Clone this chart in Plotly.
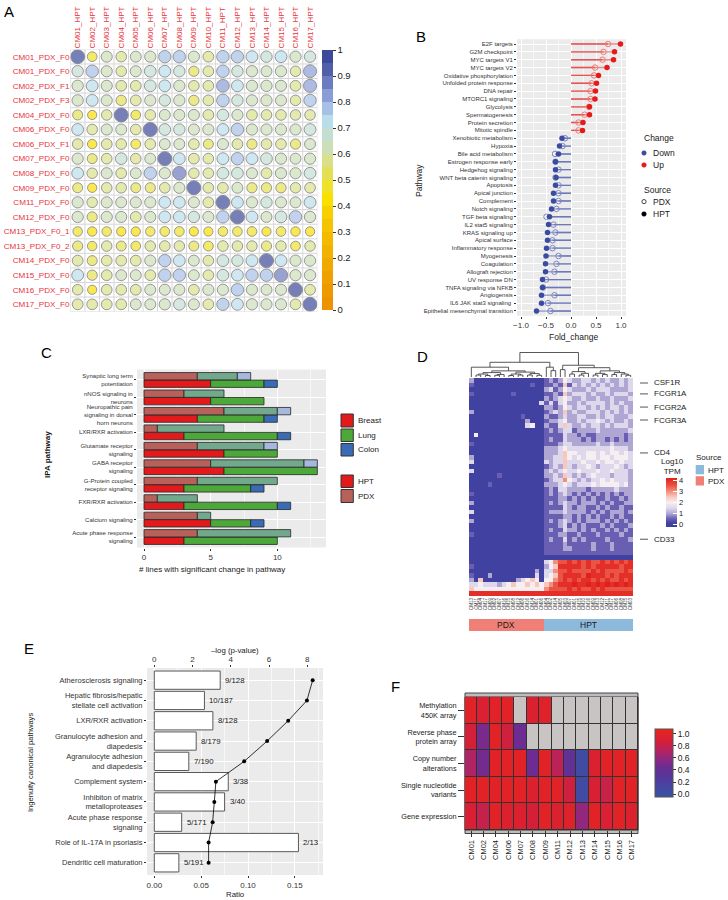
import numpy as np
import plotly.graph_objects as go

W, H = 728, 900
FONT = "Liberation Sans, Arial, Helvetica, sans-serif"
INK = "#1A1A1A"
TICK = "#333333"
RED_LAB = "#E8333C"

def fx(p): return p / W
def fy(p): return 1 - p / H
def dx(a, b): return [a / W, b / W]
def dy(top, bottom): return [1 - bottom / H, 1 - top / H]

# ======================= DATA =======================
# ---- Panel A: correlation PDX vs HPT
a_cols = ["CM01_HPT", "CM02_HPT", "CM03_HPT", "CM04_HPT", "CM05_HPT", "CM06_HPT", "CM07_HPT", "CM08_HPT",
          "CM09_HPT", "CM10_HPT", "CM11_HPT", "CM12_HPT", "CM13_HPT", "CM14_HPT", "CM15_HPT", "CM16_HPT", "CM17_HPT"]
a_rows = ["CM01_PDX_F0", "CM01_PDX_F0", "CM02_PDX_F1", "CM02_PDX_F3", "CM04_PDX_F0", "CM06_PDX_F0", "CM06_PDX_F1",
          "CM07_PDX_F0", "CM08_PDX_F0", "CM09_PDX_F0", "CM11_PDX_F0", "CM12_PDX_F0", "CM13_PDX_F0_1", "CM13_PDX_F0_2",
          "CM14_PDX_F0", "CM15_PDX_F0", "CM16_PDX_F0", "CM17_PDX_F0"]
a_corr = [
    [0.97, 0.47, 0.61, 0.56, 0.60, 0.63, 0.76, 0.76, 0.63, 0.58, 0.77, 0.76, 0.70, 0.65, 0.70, 0.63, 0.65],
    [0.65, 0.77, 0.62, 0.56, 0.61, 0.69, 0.70, 0.65, 0.52, 0.57, 0.77, 0.65, 0.64, 0.60, 0.63, 0.55, 0.83],
    [0.64, 0.70, 0.62, 0.58, 0.58, 0.69, 0.70, 0.64, 0.57, 0.57, 0.80, 0.70, 0.64, 0.64, 0.62, 0.58, 0.84],
    [0.64, 0.70, 0.62, 0.54, 0.58, 0.63, 0.66, 0.64, 0.53, 0.57, 0.78, 0.65, 0.63, 0.63, 0.62, 0.55, 0.76],
    [0.50, 0.42, 0.55, 0.97, 0.47, 0.57, 0.60, 0.62, 0.62, 0.58, 0.68, 0.62, 0.59, 0.57, 0.57, 0.55, 0.56],
    [0.70, 0.56, 0.62, 0.60, 0.57, 0.97, 0.69, 0.65, 0.62, 0.62, 0.70, 0.78, 0.64, 0.63, 0.63, 0.62, 0.69],
    [0.56, 0.44, 0.58, 0.57, 0.48, 0.58, 0.60, 0.60, 0.58, 0.50, 0.62, 0.57, 0.53, 0.57, 0.57, 0.52, 0.60],
    [0.63, 0.50, 0.57, 0.68, 0.56, 0.60, 0.97, 0.70, 0.58, 0.56, 0.70, 0.76, 0.70, 0.69, 0.63, 0.60, 0.63],
    [0.70, 0.55, 0.62, 0.58, 0.60, 0.77, 0.64, 0.88, 0.56, 0.56, 0.69, 0.69, 0.62, 0.59, 0.63, 0.62, 0.69],
    [0.50, 0.43, 0.56, 0.56, 0.50, 0.52, 0.57, 0.62, 0.96, 0.57, 0.58, 0.60, 0.53, 0.53, 0.53, 0.55, 0.57],
    [0.63, 0.55, 0.62, 0.60, 0.62, 0.63, 0.70, 0.70, 0.62, 0.58, 0.95, 0.70, 0.64, 0.65, 0.62, 0.60, 0.70],
    [0.63, 0.52, 0.63, 0.62, 0.59, 0.62, 0.70, 0.70, 0.65, 0.62, 0.77, 0.97, 0.70, 0.60, 0.69, 0.78, 0.64],
    [0.45, 0.44, 0.45, 0.43, 0.43, 0.45, 0.47, 0.47, 0.43, 0.42, 0.46, 0.46, 0.47, 0.42, 0.47, 0.44, 0.43],
    [0.52, 0.45, 0.55, 0.50, 0.47, 0.55, 0.57, 0.55, 0.50, 0.48, 0.57, 0.55, 0.55, 0.52, 0.55, 0.47, 0.55],
    [0.58, 0.50, 0.57, 0.58, 0.58, 0.62, 0.76, 0.70, 0.60, 0.57, 0.69, 0.65, 0.70, 0.97, 0.70, 0.63, 0.63],
    [0.70, 0.52, 0.58, 0.60, 0.60, 0.58, 0.77, 0.76, 0.60, 0.57, 0.69, 0.70, 0.76, 0.77, 0.88, 0.63, 0.64],
    [0.55, 0.42, 0.57, 0.57, 0.58, 0.60, 0.62, 0.62, 0.58, 0.62, 0.63, 0.76, 0.62, 0.60, 0.62, 0.96, 0.58],
    [0.58, 0.57, 0.58, 0.58, 0.60, 0.60, 0.63, 0.68, 0.62, 0.58, 0.75, 0.70, 0.64, 0.62, 0.63, 0.58, 0.96],
]
a_ticks = [0, 0.1, 0.2, 0.3, 0.4, 0.5, 0.6, 0.7, 0.8, 0.9, 1]
a_ticktext = ["0", "0.1", "0.2", "0.3", "0.4", "0.5", "0.6", "0.7", "0.8", "0.9", "1"]

# ---- Panel B: hallmark pathway fold change
b_path = ["E2F targets", "G2M checkpoint", "MYC targets V1", "MYC targets V2", "Oxidative phosphorylation",
          "Unfolded protein response", "DNA repair", "MTORC1 signaling", "Glycolysis", "Spermatogenesis",
          "Protein secretion", "Mitotic spindle", "Xenobiotic metabolism", "Hypoxia", "Bile acid metabolism",
          "Estrogen response early", "Hedgehog signaling", "WNT beta catenin signaling", "Apoptosis",
          "Apical junction", "Complement", "Notch signaling", "TGF beta signaling", "IL2 stat5 signaling",
          "KRAS signaling up", "Apical surface", "Inflammatory response", "Myogenesis", "Coagulation",
          "Allograft rejection", "UV response DN", "TNFA signaling via NFKB", "Angiogensis",
          "IL6 JAK stat3 signaling ", "Epithelial mesenchymal transition"]
b_hpt = [0.99, 0.87, 0.85, 0.72, 0.55, 0.51, 0.49, 0.48, 0.37, 0.37, 0.24, 0.23,
         -0.18, -0.23, -0.25, -0.31, -0.31, -0.30, -0.31, -0.35, -0.35, -0.39,
         -0.43, -0.45, -0.47, -0.47, -0.49, -0.50, -0.51, -0.51, -0.57, -0.57, -0.59, -0.59, -0.69]
b_pdx = [0.74, 0.65, 0.63, 0.48, 0.46, 0.41, 0.39, 0.39, 0.36, 0.27, 0.15, 0.15,
         -0.12, -0.17, -0.32, -0.31, -0.25, -0.31, -0.25, -0.25, -0.25, -0.29,
         -0.49, -0.35, -0.31, -0.37, -0.37, -0.25, -0.29, -0.33, -0.50, -0.56, -0.33, -0.46, -0.41]
b_change = ["Up"] * 12 + ["Down"] * 23

# ---- Panel C: IPA pathways
c_path = ["Synaptic long term<br>potentiation", "nNOS signaling in<br>neurons",
          "Neuropathic pain<br>signaling in dorsal<br>horn neurons", "LXR/RXR activation",
          "Glutamate receptor<br>signaling", "GABA receptor<br>signaling", "G-Protein coupled<br>receptor signaling",
          "FXR/RXR activation", "Calcium signaling", "Acute phase response<br>signaling"]
c_hpt_breast = [5, 5, 4, 3, 6, 6, 3, 3, 5, 3]
c_hpt_lung = [4, 4, 5, 7, 4, 7, 5, 7, 3, 7]
c_hpt_colon = [1, 0, 1, 1, 0, 0, 1, 1, 1, 0]
c_pdx_breast = [4, 3, 6, 1, 4, 5, 4, 1, 4, 4]
c_pdx_lung = [3, 3, 4, 5, 5, 7, 6, 3, 1, 7]
c_pdx_colon = [1, 0, 1, 0, 1, 1, 0, 0, 0, 0]

# ---- Panel D: immune gene expression heatmap (each digit = half a log10 TPM unit)
d_cols = ["CM13", "CM11", "CM04", "CM17", "CM09", "CM02", "CM07", "CM16", "CM15", "CM08", "CM12", "CM06",
          "CM16", "CM14", "CM01", "CM06",
          "CM04", "CM02", "CM14", "CM05", "CM03", "CM07", "CM01", "CM15", "CM10", "CM16", "CM09", "CM13",
          "CM12", "CM11", "CM17", "CM06", "CM08", "CM15", "CM03"]
d_source = ["PDX"] * 16 + ["HPT"] * 19
d_rows = [
    "2000000000000000" "121" "2432233232322323",
    "1000000000000100" "112" "1513232323232323",
    "0000000000000000" "231" "2432223233322223",
    "1000000001000000" "112" "1523332322323332",
    "0000000000000000" "212" "3432232232232223",
    "0000000000000003" "131" "3422323333232322",
    "0000000000000000" "221" "2432332323233232",
    "2000000000000000" "123" "2523223332323232",
    "0000000000010000" "211" "2322332232332223",
    "0000000000002000" "122" "3422323343232232",
    "0000000000003400" "211" "3532232332323332",
    "0000000000000000" "121" "2331222232222223",
    "0400000000000000" "111" "1322121122222212",
    "0000000000000000" "121" "1322212122121212",
    "1000000000000000" "111" "2332222232232222",
    "0000000000000000" "222" "3433333333343332",
    "0000000000000000" "222" "3544334434344343",
    "2000000000000000" "223" "3543434434434443",
    "3000000000000000" "323" "3533343343443433",
    "0000000000000000" "123" "2532334323334323",
    "3000000000000000" "232" "3433433343343332",
    "0000001000000000" "223" "2532323433323332",
    "0000000000000000" "123" "3643232334343332",
    "0000100000000000" "222" "3432333434444342",
    "0000000000000000" "121" "3322221222223222",
    "1000000000000000" "121" "2321212121212122",
    "0000000000000000" "111" "2212121211211212",
    "2000000000000000" "121" "2322122212121122",
    "0000000000000000" "111" "1321221121211211",
    "3000000000000000" "122" "2322221212122212",
    "0000000000000000" "111" "1221212121121211",
    "2000000000000000" "121" "2321212221212121",
    "0000000000000000" "111" "2312121112121112",
    "0000000000000000" "121" "1322121211212121",
    "1000000000000000" "111" "2211211121111211",
    "0000000000000000" "121" "1312121111211112",
    "0000000000000000" "111" "1211111211121111",
    "0000000000000000" "111" "1221111211121111",
    "0000000000000000" "111" "1111111111111111",
    "0000000000000000" "000" "0000000000000000",
    "0000000000000000" "346" "7787878778787878",
    "1000000000000000" "245" "8888878788888788",
    "0000000000000020" "336" "7787777878777787",
    "1000200000000030" "345" "7888879888787888",
    "2050000000234540" "446" "7878788787877878",
    "3343332345445454" "567" "8889889898989898",
    "5444444444444444" "677" "7787877878777777",
    "8888888888888888" "888" "8888888888888888",
]
d_genes = ["CSF1R", "FCGR1A", "FCGR2A", "FCGR3A", "CD4", "CD33"]
d_gene_row = [0.6, 3.0, 5.9, 8.75, 16.0, 35.0]
# dendrogram: [height, left, right]; leaves are column indices
d_tree = [1.0,
          [0.6,
           [0.4, 0,
            [0.25,
             [0.18, [0.12, [0.08, 1, 2], [0.06, 3, 4]], [0.1, [0.07, 5, 6], 7]],
             [0.2, [0.12, [0.06, 8, 9], [0.08, 10, 11]], [0.14, [0.08, 12, 13], [0.07, 14, 15]]]]],
           [0.4, 16, [0.26, 17, 18]]],
          [0.48,
           [0.3, 19, 20],
           [0.38,
            [0.22, [0.12, 21, 22], [0.15, [0.08, 23, 24], 25]],
            [0.25, [0.15, [0.08, 26, 27], [0.1, 28, 29]], [0.18, [0.1, 30, 31], [0.12, 32, [0.07, 33, 34]]]]]]]

# ---- Panel E: ingenuity canonical pathways
e_path = ["Atherosclerosis signaling", "Hepatic fibrosis/hepatic<br>stellate cell activation", "LXR/RXR activation",
          "Granulocyte adhesion and<br>diapedesis", "Agranulocyte adhesion<br>and diapedesis", "Complement system",
          "Inhibiton of matrix<br>metalloproteases", "Acute phase response<br>signaling",
          "Role of IL-17A in psoriasis", "Dendritic cell maturation"]
e_ratio = [0.0703, 0.0535, 0.0625, 0.0447, 0.0368, 0.0789, 0.0750, 0.0292, 0.1538, 0.0262]
e_label = ["9/128", "10/187", "8/128", "8/179", "7/190", "3/38", "3/40", "5/171", "2/13", "5/191"]
e_logp = [8.28, 7.98, 7.0, 5.9, 4.7, 3.22, 3.14, 3.05, 2.84, 2.84]

# ---- Panel F: concordance per data type
f_cols = ["CM01", "CM02", "CM04", "CM06", "CM07", "CM08", "CM09", "CM11", "CM12", "CM13", "CM14", "CM15", "CM16", "CM17"]
f_rows = ["Methylation<br>450K array", "Reverse phase<br>protein array", "Copy number<br>alterations",
          "Single nucleotide<br>variants", "Gene expression"]
f_meth = [1.0, 0.92, 1.0, 1.0, None, 0.93, 0.98, None, None, None, None, None, None, None]
f_rppa = [0.88, 0.50, 1.0, 0.85, 0.45, None, None, None, None, None, None, None, None, None]
f_cna = [0.70, 0.48, 1.0, 1.0, 1.0, 0.45, 1.0, 0.75, 0.38, 0.05, 0.93, 1.0, 1.0, 1.0]
f_snv = [1.0, 1.0, 1.0, 1.0, 1.0, 0.93, 1.0, 1.0, 0.85, 0.05, 0.90, 0.82, 1.0, 1.0]
f_ge = [0.90, 0.80, 1.0, 0.95, 0.93, 0.88, 1.0, 0.95, 0.97, 0.60, 1.0, 0.92, 1.0, 0.95]

# ======================= FIGURE =======================
fig = go.Figure()
shapes, annots = [], []


def note(x, y, text, size=8, xanchor="center", yanchor="middle", angle=0, color=INK,
         xref="paper", yref="paper", xshift=0):
    annots.append(dict(x=fx(x) if xref == "paper" else x, y=fy(y) if yref == "paper" else y,
                       xref=xref, yref=yref, text=text, showarrow=False, xanchor=xanchor,
                       yanchor=yanchor, textangle=angle, xshift=xshift,
                       font=dict(size=size, color=color, family=FONT)))


def ax(**kw):
    d = dict(showgrid=False, zeroline=False, showline=False, automargin=False, ticks="",
             fixedrange=True, tickfont=dict(size=8, color=TICK, family=FONT))
    d.update(kw)
    return d


def gray_bg(xa, ya):
    shapes.append(dict(type="rect", xref=f"{xa} domain", yref=f"{ya} domain", x0=0, x1=1, y0=0, y1=1,
                       fillcolor="#EBEBEB", line=dict(width=0), layer="below"))


# ---------- Panel A ----------
band_colors = ["#EE9200", "#EF9900", "#F0A100", "#F1A900", "#F3B100", "#F5BA00", "#F6C300", "#F8D000",
               "#FAE000", "#EFE22A", "#E4E055", "#D9E08C", "#CDDFB8", "#C4DFD2", "#BADDEA", "#A6C0E6",
               "#8B9DD6", "#6D7BC0", "#5260AA", "#3D4A9A"]
a_scale = []
for i, c in enumerate(band_colors):
    a_scale += [[i / 20, c], [(i + 1) / 20, c]]
A = np.array(a_corr, dtype=float)
rr, cc = np.meshgrid(np.arange(A.shape[0]), np.arange(A.shape[1]), indexing="ij")
for k in range(len(a_cols) + 1):
    shapes.append(dict(type="line", xref="x", yref="y", x0=k - 0.5, x1=k - 0.5, y0=-0.5, y1=len(a_rows) - 0.5,
                       line=dict(color="#D6D6D6", width=1), layer="below"))
for r in range(len(a_rows) + 1):
    shapes.append(dict(type="line", xref="x", yref="y", y0=r - 0.5, y1=r - 0.5, x0=-0.5, x1=len(a_cols) - 0.5,
                       line=dict(color="#D6D6D6", width=1), layer="below"))
fig.add_trace(go.Scatter(
    x=cc.ravel(), y=rr.ravel(), mode="markers", xaxis="x", yaxis="y", hoverinfo="skip", showlegend=False,
    marker=dict(size=14.2 * np.sqrt(A.ravel()), color=A.ravel(), colorscale=a_scale, cmin=0, cmax=1,
                line=dict(color="#5C5C5C", width=0.9), showscale=True,
                colorbar=dict(x=fx(321.7), xanchor="left", y=fy(180), yanchor="middle", len=260.3 / H,
                              lenmode="fraction", thickness=11, thicknessmode="pixels",
                              tickmode="array", tickvals=a_ticks, ticktext=a_ticktext, ticks="outside",
                              ticklen=3, tickcolor="#333", tickfont=dict(size=9.5, color=INK, family=FONT),
                              outlinewidth=0, xpad=0, ypad=0))))

# ---------- Panel B ----------
gray_bg("x2", "y2")
UP, DOWN = "#E41A1C", "#3B4BA0"
b_styles = {"Up": ("rgba(228,26,28,0.5)", UP, "#F07C74"),
            "Down": ("rgba(59,75,160,0.5)", DOWN, "#7D86C6")}
for ch, (lc, dc, oc) in b_styles.items():
    sel = [i for i in range(len(b_path)) if b_change[i] == ch]
    for vals in (b_pdx, b_hpt):
        xs, ys = [], []
        for i in sel:
            xs += [0, vals[i], None]
            ys += [i, i, None]
        fig.add_trace(go.Scatter(x=xs, y=ys, mode="lines", line=dict(color=lc, width=1.4),
                                 xaxis="x2", yaxis="y2", hoverinfo="skip", showlegend=False))
    fig.add_trace(go.Scatter(x=[b_pdx[i] for i in sel], y=sel, mode="markers", xaxis="x2", yaxis="y2",
                             marker=dict(symbol="circle-open", size=5.5, color=oc, line=dict(width=1)),
                             hoverinfo="skip", showlegend=False))
    fig.add_trace(go.Scatter(x=[b_hpt[i] for i in sel], y=sel, mode="markers", xaxis="x2", yaxis="y2",
                             marker=dict(size=5.5, color=dc), hoverinfo="skip", showlegend=False))

# ---------- Panel C ----------
gray_bg("x3", "y3")
nC = len(c_path)
c_groups = [(0.215, [c_hpt_breast, c_hpt_lung, c_hpt_colon], ["#E31A1C", "#4DA83A", "#3A6CB5"]),
            (-0.215, [c_pdx_breast, c_pdx_lung, c_pdx_colon], ["#B8615B", "#72A88C", "#A6B8DE"])]
for offs, parts, cols in c_groups:
    base = np.zeros(nC)
    for vals, col in zip(parts, cols):
        v = np.array(vals, dtype=float)
        keep = v > 0
        fig.add_trace(go.Bar(orientation="h", y=(np.arange(nC) + offs)[keep], x=v[keep], base=base[keep],
                             width=0.42, marker=dict(color=col, line=dict(color="#262626", width=0.8)),
                             xaxis="x3", yaxis="y3", hoverinfo="skip", showlegend=False))
        base = base + v

# ---------- Panel D ----------
z_d = [[int(ch) * 0.5 for ch in row] for row in d_rows]
assert all(len(r) == len(d_cols) for r in z_d)
d_scale_pts = [(-0.2, "#3D3D9D"), (0.2, "#4444A4"), (0.6, "#7468B6"), (1.0, "#AFA6D4"), (1.5, "#DDD8EC"),
               (2.0, "#F6EEF0"), (2.5, "#F7C9BE"), (3.0, "#F28E7E"), (3.5, "#EA5444"), (4.2, "#E0201C")]
d_scale = [[(v + 0.2) / 4.4, c] for v, c in d_scale_pts]
fig.add_trace(go.Heatmap(
    z=z_d, x=list(range(len(d_cols))), y=list(range(len(d_rows))), xaxis="x4", yaxis="y4",
    colorscale=d_scale, zmin=-0.2, zmax=4.2, hoverinfo="skip",
    colorbar=dict(x=fx(666), xanchor="left", y=fy(502.5), yanchor="middle", len=49 / H, lenmode="fraction",
                  thickness=11, thicknessmode="pixels", tickmode="array", tickvals=[0, 1, 2, 3, 4],
                  ticks="inside", ticklen=4, tickcolor="white", tickfont=dict(size=7.5, color=INK, family=FONT),
                  outlinewidth=0, xpad=0, ypad=0)))

segx, segy = [], []


def collect(node):
    if isinstance(node, int):
        return float(node), 0.0
    h, left, right = node
    xl, hl = collect(left)
    xr, hr = collect(right)
    segx.extend([xl, xl, xr, xr, None])
    segy.extend([hl, h, h, hr, None])
    return (xl + xr) / 2, h


collect(d_tree)
fig.add_trace(go.Scatter(x=segx, y=segy, mode="lines", line=dict(color="#444444", width=0.9),
                         xaxis="x4", yaxis="y5", hoverinfo="skip", showlegend=False))
src_code = [0 if s == "PDX" else 1 for s in d_source]
fig.add_trace(go.Heatmap(z=[src_code], x=list(range(len(d_cols))), y=[0], xaxis="x4", yaxis="y6",
                         colorscale=[[0, "#F08077"], [0.5, "#F08077"], [0.5, "#8DB9DB"], [1, "#8DB9DB"]],
                         zmin=0, zmax=1, showscale=False, hoverinfo="skip"))
n_pdx = d_source.count("PDX")
note((n_pdx - 1) / 2, 625, "PDX", size=8.5, xref="x4")
note(n_pdx + (len(d_source) - n_pdx - 1) / 2, 625, "HPT", size=8.5, xref="x4")
for g, rw in zip(d_genes, d_gene_row):
    note(652, rw, g, size=8, xanchor="left", yref="y4")
    shapes.append(dict(type="line", xref="paper", yref="y4", x0=fx(640), x1=fx(648), y0=rw, y1=rw,
                       line=dict(color="#555555", width=1)))

# ---------- Panel E ----------
gray_bg("x6", "y8")
nE = len(e_path)
fig.add_trace(go.Bar(orientation="h", y=list(range(nE)), x=e_ratio, width=0.9, xaxis="x6", yaxis="y8",
                     marker=dict(color="white", line=dict(color="#595959", width=1)), hoverinfo="skip",
                     showlegend=False))
for i, (rv, lab) in enumerate(zip(e_ratio, e_label)):
    note(rv, i, lab, size=7.8, xanchor="left", xref="x6", yref="y8", xshift=3)
fig.add_trace(go.Scatter(x=e_logp, y=list(range(nE)), mode="lines+markers", xaxis="x7", yaxis="y8",
                         line=dict(color="black", width=0.8), marker=dict(size=4, color="black"),
                         hoverinfo="skip", showlegend=False))

# ---------- Panel F ----------
f_z = [f_meth, f_rppa, f_cna, f_snv, f_ge]
f_na = [[1 if v is None else None for v in row] for row in f_z]
shapes.append(dict(type="rect", xref="paper", yref="paper", x0=fx(465), x1=fx(638), y0=fy(833.5), y1=fy(693),
                   fillcolor="#BDBDBD", line=dict(color="#444444", width=1), layer="below"))
shapes.append(dict(type="rect", xref="x5 domain", yref="y7 domain", x0=0, x1=1, y0=0, y1=1,
                   fillcolor="#333333", line=dict(color="#333333", width=1), layer="below"))
fig.add_trace(go.Heatmap(z=f_na, x=list(range(len(f_cols))), y=list(range(len(f_rows))), xaxis="x5", yaxis="y7",
                         colorscale=[[0, "#C8C4C4"], [1, "#C8C4C4"]], showscale=False, xgap=1, ygap=1,
                         hoverinfo="skip"))
f_scale_pts = [(-0.05, "#3B52A3"), (0.1, "#4448A0"), (0.3, "#56369A"), (0.45, "#6C2C92"), (0.6, "#92287E"),
               (0.75, "#BC2258"), (0.9, "#D81F34"), (1.083, "#E8261E")]
f_scale = [[(v + 0.05) / 1.133, c] for v, c in f_scale_pts]
fig.add_trace(go.Heatmap(
    z=f_z, x=list(range(len(f_cols))), y=list(range(len(f_rows))), xaxis="x5", yaxis="y7",
    colorscale=f_scale, zmin=-0.05, zmax=1.083, xgap=1, ygap=1, hoverinfo="skip",
    colorbar=dict(x=fx(655), xanchor="left", y=fy(763), yanchor="middle", len=68 / H, lenmode="fraction",
                  thickness=18, thicknessmode="pixels", tickmode="array", tickvals=[0, 0.2, 0.4, 0.6, 0.8, 1.0],
                  ticktext=["0.0", "0.2", "0.4", "0.6", "0.8", "1.0"], ticks="outside", ticklen=3,
                  tickcolor="#333", tickfont=dict(size=8.5, color=INK, family=FONT),
                  outlinewidth=1, outlinecolor="#555555", xpad=0, ypad=0)))

# ---------- legends & titles ----------
# B legend
note(642, 138, "Change", size=8.5, xanchor="left")
note(642, 190, "Source", size=8.5, xanchor="left")
for yy, col, txt in [(153, DOWN, "Down"), (165, UP, "Up")]:
    shapes.append(dict(type="circle", xref="paper", yref="paper", x0=fx(641.7), x1=fx(646.3),
                       y0=fy(yy + 2.3), y1=fy(yy - 2.3), fillcolor=col, line=dict(color=col, width=0.5)))
    note(651, yy, txt, size=8.5, xanchor="left")
shapes.append(dict(type="circle", xref="paper", yref="paper", x0=fx(641.9), x1=fx(646.1), y0=fy(203.7),
                   y1=fy(199.5), fillcolor="white", line=dict(color="#333", width=0.9)))
note(651, 201.5, "PDX", size=8.5, xanchor="left")
shapes.append(dict(type="circle", xref="paper", yref="paper", x0=fx(641.7), x1=fx(646.3), y0=fy(216.3),
                   y1=fy(211.7), fillcolor="black", line=dict(color="black", width=0.5)))
note(651, 214, "HPT", size=8.5, xanchor="left")
note(573, 337, "Fold_change", size=8.5)
note(419, 180, "Pathway", size=8.5, angle=-90)

# C legend
for (y0, y1, col, txt) in [(414, 427, "#E31A1C", "Breast"), (429, 441.5, "#4DA83A", "Lung"),
                           (443.5, 456, "#3A6CB5", "Colon"), (475, 487.5, "#E31A1C", "HPT"),
                           (489.5, 502.5, "#B8615B", "PDX")]:
    shapes.append(dict(type="rect", xref="paper", yref="paper", x0=fx(341), x1=fx(353.3), y0=fy(y1), y1=fy(y0),
                       fillcolor=col, line=dict(color="#333333", width=1)))
    note(356, (y0 + y1) / 2, txt, size=8, xanchor="left")
note(212, 569, "# lines with significant change in pathway", size=8)
note(47, 455, "<b>IPA pathway</b>", size=8, angle=-90)

# D legends
note(672, 466, "Log10<br>TPM", size=8)
note(694, 458, "Source", size=8, xanchor="left")
shapes.append(dict(type="rect", xref="paper", yref="paper", x0=fx(695.7), x1=fx(704), y0=fy(474.3), y1=fy(465),
                   fillcolor="#8DB9DB", line=dict(width=0)))
shapes.append(dict(type="rect", xref="paper", yref="paper", x0=fx(695.7), x1=fx(704), y0=fy(485.5), y1=fy(476.2),
                   fillcolor="#F08077", line=dict(width=0)))
note(706, 470, "HPT", size=8, xanchor="left")
note(706, 481, "PDX", size=8, xanchor="left")

# E titles
note(235, 650, "\u2013log (p-value)", size=7.8)
note(235, 894, "Ratio", size=7.8)
note(30, 763, "Ingenuity canonical pathways", size=7.6, angle=-90)

# panel letters
for (x, y, t) in [(9, 12, "A"), (421, 37, "B"), (46, 352, "C"), (422, 356, "D"), (29, 648, "E"), (396, 686, "F")]:
    note(x, y, t, size=15, color="black")

# ======================= LAYOUT =======================
nB = len(b_path)
fig.update_layout(
    width=W, height=H, margin=dict(l=0, r=0, t=0, b=0, autoexpand=False),
    paper_bgcolor="white", plot_bgcolor="white", showlegend=False, barmode="overlay",
    font=dict(family=FONT, size=8, color=INK), shapes=shapes, annotations=annots,
    # A
    xaxis=ax(domain=dx(70.4, 317.3), range=[-0.5, len(a_cols) - 0.5], anchor="y", side="top",
             tickmode="array", tickvals=list(range(len(a_cols))), ticktext=a_cols, tickangle=-90,
             tickfont=dict(size=8, color=RED_LAB, family=FONT)),
    yaxis=ax(domain=dy(49.4, 311.6), range=[len(a_rows) - 0.5, -0.5], anchor="x",
             tickmode="array", tickvals=list(range(len(a_rows))), ticktext=a_rows,
             tickfont=dict(size=8.1, color=RED_LAB, family=FONT)),
    # B
    xaxis2=ax(domain=dx(517, 626), range=[-1.08, 1.1], anchor="y2", tickmode="linear", tick0=0, dtick=0.5,
              tickformat=".1f", showgrid=True, gridcolor="white", gridwidth=1.1, ticks="outside", ticklen=2,
              tickcolor="#333", minor=dict(dtick=0.25, showgrid=True, gridcolor="#F7F7F7", gridwidth=0.5)),
    yaxis2=ax(domain=dy(39.3, 315.7), range=[nB - 0.4, -0.6], anchor="x2", tickmode="array",
              tickvals=list(range(nB)), ticktext=b_path, showgrid=True, gridcolor="white", gridwidth=1,
              ticks="outside", ticklen=2, tickcolor="#333", tickfont=dict(size=6, color=TICK, family=FONT)),
    # C
    xaxis3=ax(domain=dx(137, 326), range=[-0.525, 13.65], anchor="y3", tickmode="linear", tick0=0, dtick=5,
              showgrid=True, gridcolor="white", gridwidth=1.1, ticks="outside", ticklen=2, tickcolor="#333",
              minor=dict(dtick=2.5, showgrid=True, gridcolor="#F7F7F7", gridwidth=0.5)),
    yaxis3=ax(domain=dy(369.5, 547.5), range=[nC - 0.4, -0.6], anchor="x3", tickmode="array",
              tickvals=list(range(nC)), ticktext=c_path, showgrid=True, gridcolor="white", gridwidth=1,
              ticks="outside", ticklen=2, tickcolor="#333", tickfont=dict(size=6.1, color=TICK, family=FONT)),
    # D
    xaxis4=ax(domain=dx(469, 633), range=[-0.5, len(d_cols) - 0.5], anchor="y4", tickmode="array",
              tickvals=list(range(len(d_cols))), ticktext=d_cols, tickangle=-90,
              tickfont=dict(size=4.6, color=TICK, family=FONT)),
    yaxis4=ax(domain=dy(378, 596), range=[len(d_rows) - 0.5, -0.5], anchor="x4", showticklabels=False),
    yaxis5=ax(domain=dy(352, 377), range=[0, 1.02], anchor="x4", visible=False),
    yaxis6=ax(domain=dy(619, 631), range=[-0.5, 0.5], anchor="x4", visible=False),
    # F
    xaxis5=ax(domain=dx(465, 638), range=[-0.5, len(f_cols) - 0.5], anchor="y7", tickmode="array",
              tickvals=list(range(len(f_cols))), ticktext=f_cols, tickangle=-90, ticks="outside", ticklen=6,
              tickcolor="#333", tickfont=dict(size=7.5, color=INK, family=FONT)),
    yaxis7=ax(domain=dy(697, 830), range=[len(f_rows) - 0.5, -0.5], anchor="x5", tickmode="array",
              tickvals=list(range(len(f_rows))), ticktext=f_rows, ticks="outside", ticklen=6, tickcolor="#333",
              tickfont=dict(size=7.3, color=INK, family=FONT)),
    # E
    xaxis6=ax(domain=dx(147, 323), range=[-0.0078, 0.180], anchor="y8", side="bottom", tickmode="linear",
              tick0=0, dtick=0.05, tickformat=".2f", showgrid=True, gridcolor="white", gridwidth=1.1,
              ticks="outside", ticklen=2, tickcolor="#333",
              minor=dict(dtick=0.025, showgrid=True, gridcolor="#F7F7F7", gridwidth=0.5)),
    xaxis7=ax(overlaying="x6", side="top", anchor="y8", range=[-0.38, 8.82], tickmode="linear", tick0=0,
              dtick=2, ticks="outside", ticklen=2, tickcolor="#333"),
    yaxis8=ax(domain=dy(668, 875), range=[nE - 0.4, -0.6], anchor="x6", tickmode="array",
              tickvals=list(range(nE)), ticktext=e_path, showgrid=True, gridcolor="white", gridwidth=1,
              ticks="outside", ticklen=2, tickcolor="#333", tickfont=dict(size=7.5, color=TICK, family=FONT)),
)

fig.write_html("out.html", config={"displayModeBar": False},
               post_script="document.body.style.margin='0';document.body.style.overflow='hidden';")
